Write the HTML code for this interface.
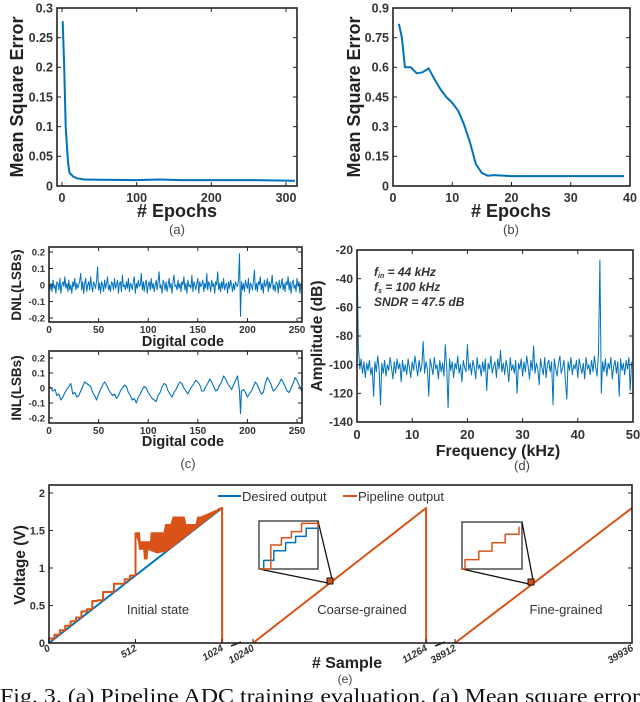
<!DOCTYPE html>
<html><head><meta charset="utf-8">
<style>
html,body{margin:0;padding:0;background:#fff;}
svg{display:block;font-family:"Liberation Sans",sans-serif;}
.tk{font-weight:bold;fill:#333;}
.ttl{font-weight:bold;fill:#222;}
</style></head>
<body>
<svg id="fig" width="640" height="702" viewBox="0 0 640 702" xmlns="http://www.w3.org/2000/svg"></svg>
<script>
// ---------- Panel (a) data ----------
const aEpochs = [1,3,5,8,10,15,20,30,50,100,130,160,200,250,312];
const aMse = [0.278,0.2,0.1,0.04,0.022,0.016,0.013,0.011,0.0105,0.01,0.011,0.01,0.01,0.01,0.009];
const aYTicks = [0,0.05,0.1,0.15,0.2,0.25,0.3];
const aYTickLabels = ["0","0.05","0.1","0.15","0.2","0.25","0.3"];
const aXTicks = [0,100,200,300];
// ---------- Panel (b) data ----------
const bEpochs = [1,1.5,2,3,4,5,6,7,8,9,10,11,12,13,14,15,16,17,20,25,30,39];
const bMse = [0.82,0.75,0.6,0.6,0.57,0.575,0.595,0.54,0.49,0.45,0.42,0.38,0.31,0.22,0.11,0.065,0.052,0.055,0.05,0.05,0.05,0.05];
const bYTicks = [0,0.15,0.3,0.45,0.6,0.75,0.9];
const bYTickLabels = ["0","0.15","0.3","0.45","0.6","0.75","0.9"];
const bXTicks = [0,10,20,30,40];
// ---------- Panel (c) data (DNL x100 per code) ----------
const dnlVals = [2,-3,1,-4,3,-2,0,-5,2,1,-3,4,-5,0,2,-1,
5,-2,1,-4,3,-3,0,-5,2,-1,4,-3,1,-2,0,3,
7,-3,2,-5,1,4,-4,0,2,-3,5,-1,-4,2,0,-2,
3,11,-3,1,-5,2,0,-4,3,-2,1,5,-3,0,-4,2,
1,-3,4,-2,0,3,-5,1,2,-4,6,-1,0,-3,2,-2,
4,-4,1,0,-3,2,5,-5,1,-2,3,-1,0,7,-3,2,
-4,1,3,-5,0,2,-3,4,-2,1,-4,0,3,-3,2,8,
-2,0,-5,3,1,-3,2,-4,0,4,-2,1,-5,2,6,-1,
0,-3,3,-2,1,-4,2,0,5,-3,1,-5,3,-1,0,-2,
6,-4,2,0,-3,1,4,-5,2,-1,0,3,-4,1,-2,7,
-3,2,0,-4,3,-1,1,-5,2,0,8,-3,1,-4,2,-2,
4,-3,0,1,-5,2,-2,3,0,-4,1,-3,2,0,-1,3,
19,-19,2,-3,1,-4,3,0,-2,4,-5,1,0,-3,2,9,
-3,1,-4,2,0,5,-3,1,-5,3,-1,0,4,-4,2,-2,
1,6,-3,0,-4,2,1,-5,3,-2,0,4,-3,1,-4,2,
0,5,-3,2,-5,1,3,-2,0,-4,4,-1,2,-5,1,-3];
const inlCodes = [0,2,4,6,8,10,12,14,16,18,20,22,24,26,28,30,32,34,36,38,40,42,44,46,48,50,52,54,56,58,60,62,64,66,68,70,72,74,76,78,80,82,84,86,88,90,92,94,96,98,100,102,104,106,108,110,112,114,116,118,120,122,124,126,128,130,132,134,136,138,140,142,144,146,148,150,152,154,156,158,160,162,164,166,168,170,172,174,176,178,180,182,184,186,188,190,192,193,194,196,198,200,202,204,206,208,210,212,214,216,218,220,222,224,226,228,230,232,234,236,238,240,242,244,246,248,250,252,254,255];
const inlVals = [1,0,-2,-1,-5,-4,-8,-6,-3,-1,1,3,-4,-3,-6,-5,-2,1,4,3,2,1,-3,-5,-8,-4,-1,2,4,2,-1,-3,-5,-4,-7,-5,-2,0,2,1,-3,-5,-8,-7,-10,-6,-4,-1,1,0,-3,-5,-7,-8,-9,-5,-3,1,3,2,-2,-4,-6,-3,-1,2,4,3,0,-2,-4,-1,1,3,5,4,2,-2,-2,1,3,6,4,1,-2,-1,2,4,8,6,3,1,-1,2,5,8,-2,-17,-2,-1,-3,-6,-4,-2,1,4,2,-1,-4,-3,3,7,5,2,-2,-1,1,3,6,4,1,-2,-3,0,3,7,5,2,-1,-3];
const cYTicks = [-0.2,-0.1,0,0.1,0.2];
const cYTickLabels = ["-0.2","-0.1","0","0.1","0.2"];
const cXTicks = [0,50,100,150,200,250];
// ---------- Panel (d) data (offset from -100 dB, bins of 0.25 kHz) ----------
const fftOffsets = [80,12,-3,4,-6,2,-9,1,-4,3,-7,-2,-22,2,-5,6,-3,-28,1,-6,
3,-8,0,-4,5,-2,-10,2,-6,4,-3,1,-12,3,-5,0,-7,4,-2,-9,
2,-4,6,-1,-8,3,-5,0,16,-6,2,-3,-22,4,-1,-7,5,-3,0,-10,
3,-5,1,-8,14,-2,-30,4,-4,2,-9,1,-3,6,-6,0,-12,3,-2,-5,
14,-4,1,-7,3,-2,-10,5,-3,0,-8,2,-5,4,-18,1,-3,6,-6,-1,
2,-9,4,-3,10,-5,1,-7,3,-2,-12,5,-4,0,-6,3,-20,1,-3,4,
-8,2,-5,6,-1,-10,3,-4,13,-6,1,-3,-14,4,-2,-7,5,-9,0,3,
-5,2,-28,4,-3,-8,1,6,-6,-2,3,-11,-24,2,-4,5,-7,0,-3,3,
-9,4,-2,-6,1,-10,5,-3,0,-7,3,-5,6,-2,-8,8,73,-20,2,-5,
4,-8,1,-3,5,-10,-1,3,-6,2,-22,4,-4,1,-7,3,-3,5,-18,2];
const fftBinKHz = 0.25;
const dYTicks = [-140,-120,-100,-80,-60,-40,-20];
const dXTicks = [0,10,20,30,40,50];
// ---------- Panel (e) data ----------
const eFullScale = 1.8;
const initStepStarts = [0,32,64,96,128,160,192,224,256,288,320,352,384,416,448,480];
const initStepLevels = [0.06,0.11,0.17,0.23,0.29,0.34,0.42,0.45,0.56,0.57,0.68,0.68,0.79,0.79,0.85,0.9];
const bandSamples = [512,535,540,600,605,680,690,720,735,800,810,870,880,900,1000,1024];
const bandUpper = [1.47,1.47,1.35,1.35,1.47,1.47,1.58,1.58,1.68,1.68,1.58,1.58,1.68,1.68,1.78,1.8];
const bandLowSamples = [1000,900,800,700,640,585,580,565,560,535,530];
const bandLower = [1.76,1.58,1.41,1.23,1.2,1.25,1.12,1.12,1.25,1.25,1.35];
const eYTicks = [0,0.5,1,1.5,2];
const eXTicks = [0,512,1024,10240,11264,38912,39936];

const NS="http://www.w3.org/2000/svg";
const svg=document.getElementById('fig');
function el(tag,attrs,parent){const e=document.createElementNS(NS,tag);for(const k in attrs)e.setAttribute(k,attrs[k]);(parent||svg).appendChild(e);return e;}
function txt(s,attrs,parent){const t=el('text',attrs,parent);t.textContent=s;return t;}
const BLUE="#0072BD", ORANGE="#D95319";

function lin(d0,d1,p0,p1){return v=>p0+(v-d0)*(p1-p0)/(d1-d0);}

function frame(g,x0,y0,x1,y1){
  const r=el('rect',{x:x0,y:y0,width:x1-x0,height:y1-y0,fill:'none',stroke:'#222','stroke-width':1.6},g);
  
  
}
function yTicks(g,ys,vals,labels,x0,x1,fs,lx){
  vals.forEach((v,i)=>{
    const y=ys(v);
    el('line',{x1:x0,x2:x0+4,y1:y,y2:y,stroke:'#222','stroke-width':1},g);
    el('line',{x1:x1,x2:x1-4,y1:y,y2:y,stroke:'#222','stroke-width':1},g);
    const t=txt(labels[i],{x:lx,y:y+fs*0.35,'text-anchor':'end','font-size':fs,class:'tk'},g);
    
    
  });
}
function xTicks(g,xs,vals,y0,y1,fs,ly){
  vals.forEach(v=>{
    const x=xs(v);
    el('line',{x1:x,x2:x,y1:y1,y2:y1-4,stroke:'#222','stroke-width':1},g);
    el('line',{x1:x,x2:x,y1:y0,y2:y0+4,stroke:'#222','stroke-width':1},g);
    const t=txt(String(v),{x:x,y:ly,'text-anchor':'middle','font-size':fs,class:'tk'},g);
    
    
  });
}
function poly(g,pts,color,w){
  return el('polyline',{points:pts.map(p=>p[0].toFixed(1)+','+p[1].toFixed(1)).join(' '),fill:'none',stroke:color,'stroke-width':w,'stroke-linejoin':'round'},g);
}

// ===== Panel A =====
(function(){
  const g=el('g',{});  
  const xs=lin(0,300,62,286), ys=lin(0,0.3,186,8);
  const l=poly(g,aEpochs.map((e,i)=>[xs(e),ys(aMse[i])]),BLUE,2);
   
  frame(g,57,8,297,186);
  yTicks(g,ys,aYTicks,aYTickLabels,57,297,12.5,53);
  xTicks(g,xs,aXTicks,8,186,12.5,202);
  const yt=txt('Mean Square Error',{x:0,y:0,transform:'translate(23,97) rotate(-90)','text-anchor':'middle','font-size':18,class:'ttl'},g);
   
  const xt=txt('# Epochs',{x:177,y:217,'text-anchor':'middle','font-size':18,class:'ttl'},g);
   
  const c=txt('(a)',{x:177,y:234,'text-anchor':'middle','font-size':13,fill:'#444'},g);
   
})();

// ===== Panel B =====
(function(){
  const g=el('g',{});  
  const xs=lin(0,40,393,630), ys=lin(0,0.9,186,8);
  const l=poly(g,bEpochs.map((e,i)=>[xs(e),ys(bMse[i])]),BLUE,2);
   
  frame(g,393,8,630,186);
  yTicks(g,ys,bYTicks,bYTickLabels,393,630,12.5,389);
  xTicks(g,xs,bXTicks,8,186,12.5,202);
  const yt=txt('Mean Square Error',{x:0,y:0,transform:'translate(360,97) rotate(-90)','text-anchor':'middle','font-size':18,class:'ttl'},g);
   
  const xt=txt('# Epochs',{x:511,y:217,'text-anchor':'middle','font-size':18,class:'ttl'},g);
   
  const c=txt('(b)',{x:511,y:234,'text-anchor':'middle','font-size':13,fill:'#444'},g);
   
})();

// ===== Panel C =====
(function(){
  const g=el('g',{});  
  const xs=lin(0,255,49,302);
  // DNL
  const ys1=lin(0,0.2,285,252);
  const l1=poly(g,dnlVals.map((v,i)=>[xs(i),ys1(v/100)]),BLUE,1);
   
  frame(g,49,247,302,322);
  yTicks(g,ys1,cYTicks,cYTickLabels,49,302,9.5,45);
  xTicks(g,xs,cXTicks,247,322,10,333);
  let t=txt('DNL(LSBs)',{x:0,y:0,transform:'translate(21,285) rotate(-90)','text-anchor':'middle','font-size':13.5,class:'ttl'},g);
   
  t=txt('Digital code',{x:183,y:346,'text-anchor':'middle','font-size':14.5,class:'ttl'},g);
   
  // INL
  const ys2=lin(0,0.2,388,358);
  const l2=poly(g,inlCodes.map((c,i)=>[xs(c),ys2(inlVals[i]/100)]),BLUE,1.1);
   
  frame(g,49,351,302,423);
  yTicks(g,ys2,cYTicks,cYTickLabels,49,302,9.5,45);
  xTicks(g,xs,cXTicks,351,423,10,434);
  t=txt('INL(LSBs)',{x:0,y:0,transform:'translate(21,388) rotate(-90)','text-anchor':'middle','font-size':13.5,class:'ttl'},g);
   
  t=txt('Digital code',{x:183,y:446,'text-anchor':'middle','font-size':14.5,class:'ttl'},g);
   
  t=txt('(c)',{x:188,y:468,'text-anchor':'middle','font-size':13,fill:'#444'},g);
   
})();

// ===== Panel D =====
(function(){
  const g=el('g',{});  
  const xs=lin(0,50,357,633), ys=lin(-20,-140,250,422);
  const l=poly(g,fftOffsets.map((o,i)=>[xs(i*fftBinKHz),ys(-100+o)]),BLUE,1);
   
  frame(g,357,250,633,422);
  yTicks(g,ys,dYTicks,dYTicks.map(String),357,633,12,353);
  xTicks(g,xs,dXTicks,250,422,13,439);
  let t=txt('Amplitude (dB)',{x:0,y:0,transform:'translate(322,336) rotate(-90)','text-anchor':'middle','font-size':15.5,class:'ttl'},g);
   
  t=txt('Frequency (kHz)',{x:498,y:456,'text-anchor':'middle','font-size':16,class:'ttl'},g);
   
  t=txt('(d)',{x:522,y:470,'text-anchor':'middle','font-size':13,fill:'#444'},g);
   
  const a=el('g',{'font-size':12,'font-style':'italic','font-weight':'bold',fill:'#333'},g);
   
  const t1=el('text',{x:374,y:276},a); t1.innerHTML='f<tspan font-size="7" dy="2">in</tspan><tspan dy="-2"> = 44 kHz</tspan>';
  const t2=el('text',{x:374,y:291},a); t2.innerHTML='f<tspan font-size="7" dy="2">s</tspan><tspan dy="-2"> = 100 kHz</tspan>';
  txt('SNDR  = 47.5 dB',{x:374,y:306,'xml:space':'preserve'},a);
})();

// ===== Panel E =====
(function(){
  const g=el('g',{});  
  const ys=lin(0,2,643,493);
  function xe(s){ if(s<=1024) return 49+s*0.169; if(s<=11264) return 253+(s-10240)*0.169; return 455+(s-38912)*0.1729; }
  // desired output (blue)
  let b=poly(g,[[xe(0),ys(0)],[xe(1024),ys(eFullScale)]],BLUE,2);
   
  // initial staircase (orange)
  const pts=[[xe(0),ys(0)]];
  initStepStarts.forEach((s,i)=>{pts.push([xe(s),ys(initStepLevels[i])]);pts.push([xe(s+32),ys(initStepLevels[i])]);});
  pts.push([xe(512),ys(bandUpper[0])]);
  let o=poly(g,pts,ORANGE,2);
   
  const band=[];
  bandSamples.forEach((s,i)=>band.push([xe(s),ys(bandUpper[i])]));
  bandLowSamples.forEach((s,i)=>band.push([xe(s),ys(bandLower[i])]));
  const bp=el('polygon',{points:band.map(p=>p[0].toFixed(1)+','+p[1].toFixed(1)).join(' '),fill:ORANGE,stroke:ORANGE,'stroke-width':1},g);
   
  o=poly(g,[[xe(1000),ys(1.78)],[xe(1024),ys(eFullScale)],[xe(1024),ys(0)]],ORANGE,2);
   
  o=poly(g,[[xe(10240),ys(0)],[xe(11264),ys(eFullScale)],[xe(11264),ys(0)]],ORANGE,2);
   
  o=poly(g,[[xe(38912),ys(0)],[xe(39936),ys(eFullScale)]],ORANGE,2);
   
  frame(g,49,485,632,643);
  eYTicks.forEach(v=>{
    const y=ys(v);
    el('line',{x1:49,x2:53,y1:y,y2:y,stroke:'#222'},g);el('line',{x1:632,x2:628,y1:y,y2:y,stroke:'#222'},g);
    const t=txt(String(v),{x:45,y:y+4,'text-anchor':'end','font-size':11,class:'tk'},g);
     
  });
  eXTicks.forEach(v=>{
    const x=xe(v);
    el('line',{x1:x,x2:x,y1:643,y2:639,stroke:'#222'},g);
    const t=txt(String(v),{x:0,y:0,transform:'translate('+(x+2)+',650) rotate(-30)','text-anchor':'end','font-size':10,'font-style':'italic',class:'tk'},g);
     
  });
  // axis breaks
  [[231,646,241,642],[435,646,445,642]].forEach(p=>{const br=el('line',{x1:p[0],y1:p[1],x2:p[2],y2:p[3],stroke:'#222','stroke-width':1.5},g);});
  // insets
  function inset(x0,y0,x1,y1,sq,name,showBlue){
    const ig=el('g',{},g);  
    el('rect',{x:x0,y:y0,width:x1-x0,height:y1-y0,fill:'#fff',stroke:'#333','stroke-width':1.3},ig);
    el('line',{x1:x0,y1:y1,x2:sq[0]-2,y2:sq[1]+2,stroke:'#111','stroke-width':1.3},ig);
    el('line',{x1:x1,y1:y0,x2:sq[0]+2,y2:sq[1]-2,stroke:'#111','stroke-width':1.3},ig);
    el('rect',{x:sq[0]-3,y:sq[1]-3,width:6,height:6,fill:ORANGE,stroke:'#111','stroke-width':1},ig);
    const w=x1-x0,h=y1-y0;
    if(showBlue){
      poly(ig,[[x0,y1],[x0+w*0.08,y1],[x0+w*0.08,y1-h*0.18],[x0+w*0.25,y1-h*0.18],[x0+w*0.25,y1-h*0.38],[x0+w*0.45,y1-h*0.38],[x0+w*0.45,y1-h*0.55],[x0+w*0.62,y1-h*0.55],[x0+w*0.62,y1-h*0.68],[x0+w*0.8,y1-h*0.68],[x0+w*0.8,y1-h*0.85],[x1,y1-h*0.85]],BLUE,1.5);
      poly(ig,[[x0,y1],[x0+w*0.2,y1],[x0+w*0.2,y1-h*0.5],[x0+w*0.38,y1-h*0.5],[x0+w*0.38,y1-h*0.65],[x0+w*0.55,y1-h*0.65],[x0+w*0.55,y1-h*0.78],[x0+w*0.72,y1-h*0.78],[x0+w*0.72,y1-h*0.95],[x1,y1-h*0.95],[x1,y1-h*0.85]],ORANGE,1.5);
    } else {
      poly(ig,[[x0,y1],[x0+w*0.05,y1],[x0+w*0.05,y1-h*0.2],[x0+w*0.28,y1-h*0.2],[x0+w*0.28,y1-h*0.38],[x0+w*0.5,y1-h*0.38],[x0+w*0.5,y1-h*0.56],[x0+w*0.72,y1-h*0.56],[x0+w*0.72,y1-h*0.74],[x0+w*0.95,y1-h*0.74],[x0+w*0.95,y1-h*0.9]],ORANGE,1.5);
    }
  }
  inset(259,521,318,569,[330,581],'coarse-zoom-inset',true);
  inset(462,522,522,569,[531,582],'fine-zoom-inset',false);
  [['Initial state',158,'label-initial-state'],['Coarse-grained',362,'label-coarse-grained'],['Fine-grained',566,'label-fine-grained']].forEach(a=>{
    const t=txt(a[0],{x:a[1],y:614,'text-anchor':'middle','font-size':13,fill:'#333'},g);
     
  });
  // legend
  const lg=el('g',{},g);  
  el('line',{x1:218,x2:241,y1:496,y2:496,stroke:BLUE,'stroke-width':2},lg);
  let t=txt('Desired output',{x:242,y:501,'font-size':13,fill:'#333'},lg);
   
  el('line',{x1:343,x2:357,y1:496,y2:496,stroke:ORANGE,'stroke-width':2},lg);
  t=txt('Pipeline output',{x:358,y:501,'font-size':13,fill:'#333'},lg);
   
  t=txt('Voltage (V)',{x:0,y:0,transform:'translate(25,565) rotate(-90)','text-anchor':'middle','font-size':15.5,class:'ttl'},g);
   
  t=txt('# Sample',{x:347,y:668,'text-anchor':'middle','font-size':16,class:'ttl'},g);
   
  t=txt('(e)',{x:345,y:683,'text-anchor':'middle','font-size':12,fill:'#444'},g);
   
})();

// caption
const cap=txt('Fig. 3.  (a) Pipeline ADC training evaluation. (a) Mean square error',{x:0,y:703,'font-size':21,'font-family':'"Liberation Serif",serif',fill:'#111',textLength:640,lengthAdjust:'spacingAndGlyphs'});


</script>
</body></html>
